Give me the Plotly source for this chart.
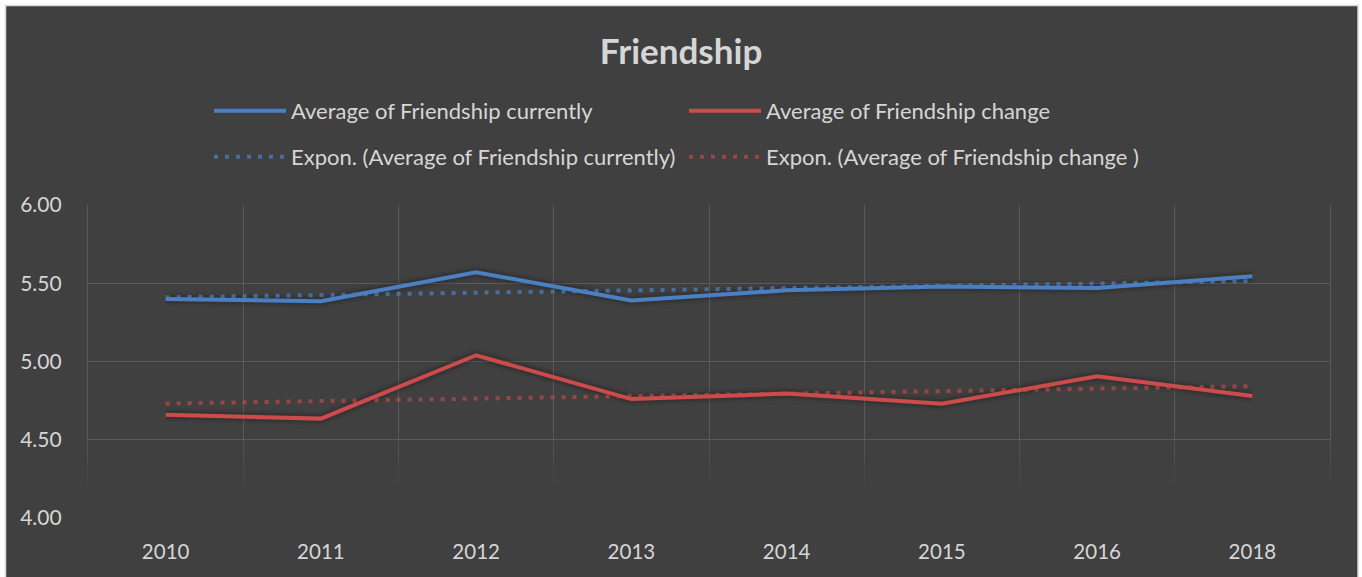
import numpy as np
import plotly.graph_objects as go

years = ["2010", "2011", "2012", "2013", "2014", "2015", "2016", "2018"]
friendship_currently = [5.40, 5.385, 5.57, 5.39, 5.455, 5.48, 5.47, 5.545]
friendship_change = [4.66, 4.635, 5.04, 4.76, 4.795, 4.73, 4.905, 4.78]
y_ticks = [4.0, 4.5, 5.0, 5.5, 6.0]
title_text = "Friendship"

BLUE = "#4a7fc1"
RED = "#cd4b4a"
BG = "#404040"
TXT = "#d6d6d6"
FONT = "Lato"
GRID = "#5a5a5a"


def expon_trend(vals):
    x = np.arange(1, len(vals) + 1)
    b, ln_a = np.polyfit(x, np.log(vals), 1)
    return list(np.exp(ln_a) * np.exp(b * x))


trend_cur = expon_trend(friendship_currently)
trend_chg = expon_trend(friendship_change)

fig = go.Figure()

# soft shadows under main lines
for vals in (friendship_currently, friendship_change):
    for w, a in ((14, 0.06), (9, 0.10)):
        fig.add_trace(go.Scatter(x=years, y=vals, mode="lines", showlegend=False,
                                 hoverinfo="skip",
                                 line=dict(color=f"rgba(0,0,0,{a})", width=w)))

fig.add_trace(go.Scatter(x=years, y=friendship_currently, mode="lines",
                         name="Average of Friendship currently",
                         line=dict(color=BLUE, width=4), legend="legend"))
fig.add_trace(go.Scatter(x=years, y=friendship_change, mode="lines",
                         name="Average of Friendship change",
                         line=dict(color=RED, width=4), legend="legend"))
fig.add_trace(go.Scatter(x=years, y=trend_cur, mode="lines",
                         name="Expon. (Average of Friendship currently)",
                         line=dict(color="rgba(74,127,193,0.72)", width=4, dash="4px,7px"),
                         legend="legend2"))
fig.add_trace(go.Scatter(x=years, y=trend_chg, mode="lines",
                         name="Expon. (Average of Friendship change )",
                         line=dict(color="rgba(205,75,74,0.62)", width=4, dash="4px,7px"),
                         legend="legend2"))

L, R, T, B = 88, 32, 205, 59
W, H = 1362, 577
pw, ph = W - L - R, H - T - B


def px_x(p):
    return (p - L) / pw


def px_y(p):
    return (H - B - p) / ph


legend_common = dict(orientation="h", xanchor="left", yanchor="middle",
                     font=dict(family=FONT, size=22, color=TXT),
                     bgcolor="rgba(0,0,0,0)", borderwidth=0,
                     entrywidth=388, entrywidthmode="pixels", itemwidth=72,
                     traceorder="normal")

fade = [(3.99, 4.22, 1.0), (4.22, 4.35, 0.7), (4.35, 4.49, 0.4)]

fig.update_layout(
    width=W, height=H,
    margin=dict(l=L, r=R, t=T, b=B, autoexpand=False),
    paper_bgcolor="white",
    plot_bgcolor=BG,
    font=dict(family=FONT, color=TXT, size=20),
    title=dict(text=f"<b>{title_text}</b>", x=0.5, xanchor="center",
               y=1 - 52 / H, yanchor="middle", yref="container",
               font=dict(family=FONT, size=35, color=TXT)),
    legend=dict(x=px_x(209), y=px_y(111), **legend_common),
    legend2=dict(x=px_x(209), y=px_y(157), **legend_common),
    xaxis=dict(type="category", tickson="boundaries", showgrid=True,
               gridcolor=GRID, gridwidth=1.3, ticks="", showline=False,
               zeroline=False, range=[-0.5, 7.5],
               tickfont=dict(family=FONT, size=20.5, color=TXT),
               ticklabelstandoff=19),
    yaxis=dict(range=[4.0, 6.0], tickvals=y_ticks, tickformat=".2f",
               showgrid=True, gridcolor=GRID, gridwidth=1.3,
               zeroline=False, showline=True, mirror=True, linecolor=GRID,
               linewidth=1.3, ticks="",
               tickfont=dict(family=FONT, size=21, color=TXT),
               ticklabelstandoff=21),
    hovermode=False,
    shapes=[
        dict(type="rect", xref="paper", yref="paper",
             x0=px_x(5.5), x1=px_x(1358), y0=px_y(5.5), y1=px_y(590),
             fillcolor=BG, line=dict(color="#d9d9d9", width=1.5), layer="below"),
    ] + [
        dict(type="rect", xref="paper", yref="y", x0=-0.003, x1=1.003, y0=a, y1=b,
             fillcolor=f"rgba(64,64,64,{op})", line=dict(width=0), layer="above")
        for a, b, op in fade
    ],
)

fig.write_html("out.html", config={"displayModeBar": False},
               post_script="document.body.style.margin='0';")
